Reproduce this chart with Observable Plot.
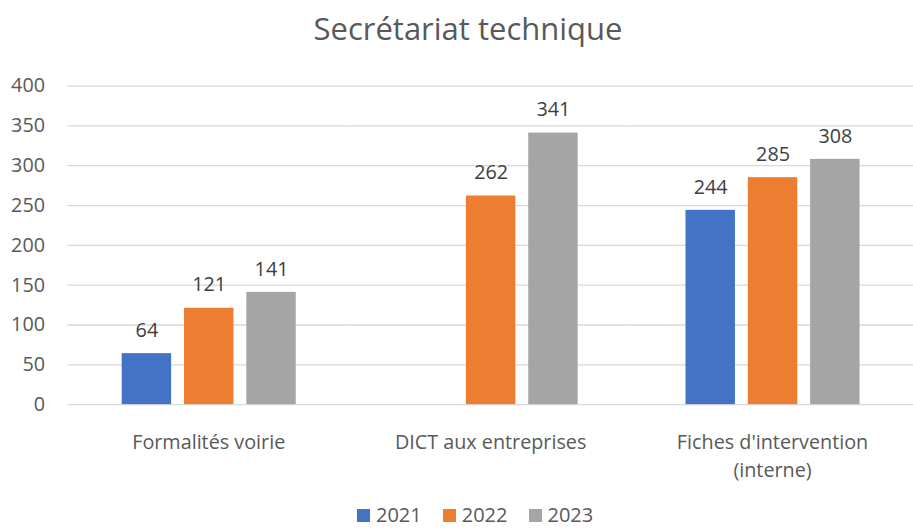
<!DOCTYPE html>
<html>
<head>
<meta charset="utf-8">
<script src="https://cdn.jsdelivr.net/npm/d3@7"></script>
<script src="https://cdn.jsdelivr.net/npm/@observablehq/plot@0.6"></script>
<style>
  html, body { margin: 0; padding: 0; background: #fff; overflow: hidden; width: 913px; height: 529px; }
  body { font-family: "Open Sans", sans-serif; position: relative; }
  #title { box-sizing: border-box; height: 50px; width: 923px; padding: 7px 0 0 13px; text-align: center;
           font-size: 31px; color: #595959; line-height: normal; white-space: nowrap; }
  #chart svg { display: block; overflow: visible; }
  #legend { position: absolute; top: 503px; left: 357px; font-size: 20px; color: #595959;
            white-space: nowrap; line-height: 24px; height: 24px; }
  #legend .item { margin-right: 21px; }
  #legend .sw { display: inline-block; width: 13px; height: 13px; margin-right: 6px; }
</style>
</head>
<body>
<div id="title">Secrétariat technique</div>
<div id="chart"></div>
<div id="legend"></div>
<script>
// Activity counts by category and year
const categories = ["Formalités voirie", "DICT aux entreprises", "Fiches d'intervention (interne)"];
const categoryLines = ["Formalités voirie", "DICT aux entreprises", "Fiches d'intervention\n(interne)"];
const years = ["2021", "2022", "2023"];
const values2021 = [64, null, 244];
const values2022 = [121, 262, 285];
const values2023 = [141, 341, 308];
const yTicks = [0, 50, 100, 150, 200, 250, 300, 350, 400];
const colors = ["#4472C4", "#ED7D31", "#A5A5A5"];

const series = [values2021, values2022, values2023];
const rows = [];
categories.forEach((category, i) => {
  years.forEach((year, j) => {
    const value = series[j][i];
    if (value != null) rows.push({category, year, value});
  });
});

const chart = Plot.plot({
  width: 923,
  height: 458,
  marginLeft: 68,
  marginRight: 0,
  marginTop: 36,
  marginBottom: 100,
  style: {fontFamily: "'Open Sans', sans-serif", background: "transparent"},
  fx: {domain: categories, padding: 0},
  x: {domain: years, paddingInner: 0.2126, paddingOuter: 0.8504, axis: null},
  y: {domain: [0, 400]},
  color: {domain: years, range: colors},
  marks: [
    Plot.gridY(yTicks, {stroke: "#d9d9d9", strokeOpacity: 1, strokeWidth: 1.3}),
    Plot.axisY(yTicks, {tickSize: 0, tickPadding: 23, fontSize: 20, fill: "#595959", label: null}),
    Plot.barY(rows, {fx: "category", x: "year", y: "value", fill: "year"}),
    Plot.text(rows, {
      fx: "category", x: "year", y: "value", text: d => String(d.value),
      lineAnchor: "bottom", dy: -17, fontSize: 20, fill: "#404040"
    }),
    Plot.axisFx({
      anchor: "bottom", tickSize: 0, tickPadding: 25, fontSize: 20, lineHeight: 1.4,
      fill: "#595959", label: null,
      tickFormat: c => categoryLines[categories.indexOf(c)]
    })
  ]
});
document.getElementById("chart").appendChild(chart);

// Legend: swatch + year
const legend = document.getElementById("legend");
years.forEach((year, j) => {
  const item = document.createElement("span");
  item.className = "item";
  const sw = document.createElement("span");
  sw.className = "sw";
  sw.style.background = colors[j];
  item.appendChild(sw);
  item.appendChild(document.createTextNode(year));
  legend.appendChild(item);
});
</script>
</body>
</html>
